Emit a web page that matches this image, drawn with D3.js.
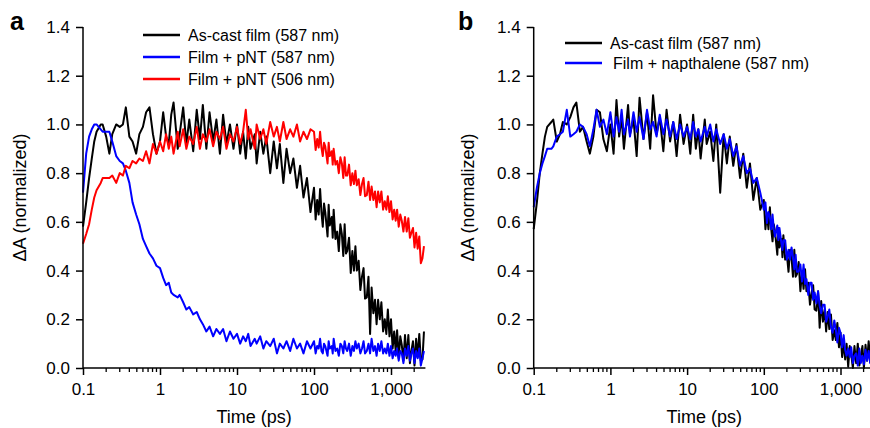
<!DOCTYPE html>
<html>
<head>
<meta charset="utf-8">
<script src="https://cdn.jsdelivr.net/npm/d3@7"></script>
<style>
    body { margin: 0; background: #fff; }
    svg { display: block; font-family: "Liberation Sans", Arial, sans-serif; }
</style>
</head>
<body>
<svg id="chart" width="870" height="428"></svg>
<script>
// delay times (ps), shared by every trace
const times = [
    0.1, 0.11, 0.12, 0.13, 0.14, 0.15, 0.17, 0.18, 0.2, 0.22, 0.24, 0.27,
    0.3, 0.33, 0.36, 0.4, 0.44, 0.49, 0.54, 0.6, 0.66, 0.73, 0.81, 0.9,
    1, 1.1, 1.2, 1.3, 1.4, 1.5, 1.7, 1.8, 2, 2.2, 2.4, 2.7,
    3, 3.3, 3.6, 4, 4.4, 4.9, 5.4, 6, 6.6, 7.3, 8.1, 9,
    10, 11, 12, 13, 14, 15, 17, 18, 20, 22, 24, 27,
    30, 33, 36, 40, 44, 49, 54, 60, 66, 73, 81, 90,
    100, 105, 110, 115, 120, 125, 130, 135, 140, 150,
    155, 160, 170, 175, 180, 190, 200, 210, 220, 230,
    240, 250, 260, 270, 285, 300, 315, 330, 345, 360,
    380, 400, 420, 440, 460, 485, 510, 535, 560, 590,
    620, 650, 680, 715, 750, 790, 830, 870, 910, 955,
    1000, 1050, 1100, 1150, 1200, 1260, 1320, 1380, 1450, 1520,
    1600, 1680, 1760, 1840, 1930, 2020, 2120, 2220, 2330, 2440,
    2560, 2680
];

// panel a
const aCast587 = [
    0.58, 0.68, 0.78, 0.86, 0.93, 0.97, 1.0, 1.0, 0.95, 0.88, 0.96, 1.0,
    0.99, 1.0, 1.07, 0.95, 0.93, 0.88, 0.96, 0.99, 1.05, 1.07, 0.96, 0.88,
    0.93, 1.05, 0.95, 0.92, 1.04, 1.09, 0.9, 0.96, 1.07, 0.92, 1.02, 0.89,
    1.06, 0.94, 1.08, 0.9, 1.05, 0.93, 1.02, 0.88, 1.04, 0.92, 1.0, 0.9,
    1.0, 0.88, 0.97, 0.86, 0.99, 0.9, 0.96, 0.84, 0.97, 0.88, 0.95, 0.8,
    0.93, 0.82, 0.92, 0.76, 0.9, 0.8, 0.86, 0.74, 0.83, 0.7, 0.78, 0.64,
    0.74, 0.61, 0.69, 0.63, 0.735, 0.64, 0.58, 0.675, 0.64, 0.54,
    0.67, 0.585, 0.62, 0.535, 0.65, 0.53, 0.56, 0.48, 0.59, 0.55,
    0.46, 0.59, 0.47, 0.48, 0.535, 0.39, 0.48, 0.4, 0.5, 0.4,
    0.44, 0.32, 0.375, 0.41, 0.285, 0.29, 0.375, 0.14, 0.33, 0.225,
    0.28, 0.18, 0.28, 0.2, 0.27, 0.15, 0.2, 0.14, 0.24, 0.13,
    0.2, 0.08, 0.15, 0.07, 0.155, 0.04, 0.13, 0.095, 0.03, 0.135,
    0.04, 0.135, 0.02, 0.07, 0.11, 0.01, 0.12, 0.045, 0.14, 0.03,
    0.035, 0.15
];
const aPNT587 = [
    0.72, 0.88, 0.95, 0.98, 1.0, 1.0, 0.98, 0.97, 0.97, 0.97, 0.93, 0.87,
    0.85, 0.84, 0.81, 0.76, 0.68, 0.63, 0.59, 0.53, 0.5, 0.47, 0.45, 0.42,
    0.41, 0.37, 0.34, 0.35, 0.31, 0.3, 0.29, 0.3, 0.27, 0.24, 0.25, 0.22,
    0.23, 0.2, 0.18, 0.15, 0.17, 0.13, 0.16, 0.14, 0.16, 0.11, 0.15, 0.12,
    0.14, 0.1, 0.13, 0.11, 0.14, 0.09, 0.12, 0.1, 0.13, 0.08, 0.11, 0.09,
    0.12, 0.06, 0.1, 0.08, 0.11, 0.07, 0.12, 0.08, 0.1, 0.06, 0.11, 0.08,
    0.11, 0.06, 0.09, 0.08, 0.12, 0.07, 0.06, 0.1, 0.09, 0.05,
    0.11, 0.08, 0.09, 0.06, 0.12, 0.07, 0.08, 0.05, 0.1, 0.09,
    0.06, 0.11, 0.08, 0.07, 0.1, 0.05, 0.09, 0.07, 0.11, 0.08,
    0.1, 0.06, 0.08, 0.11, 0.06, 0.07, 0.1, 0.06, 0.12, 0.07,
    0.09, 0.05, 0.1, 0.07, 0.11, 0.06, 0.08, 0.06, 0.1, 0.05,
    0.09, 0.04, 0.07, 0.05, 0.08, 0.03, 0.07, 0.06, 0.02, 0.08,
    0.05, 0.09, 0.03, 0.06, 0.08, 0.02, 0.07, 0.04, 0.08, 0.01,
    0.04, 0.07
];
const aPNT506 = [
    0.51, 0.55, 0.59, 0.65, 0.7, 0.73, 0.76, 0.78, 0.78, 0.78, 0.79, 0.76,
    0.8, 0.79, 0.83, 0.82, 0.85, 0.84, 0.86, 0.85, 0.89, 0.84, 0.92, 0.88,
    0.93, 0.89, 0.96, 0.9, 0.95, 0.88, 0.97, 0.91, 0.98, 0.9, 0.95, 0.92,
    0.99, 0.9, 0.96, 0.93, 0.98, 0.91, 0.97, 0.94, 0.99, 0.9, 0.96, 0.93,
    0.99, 0.92, 0.97, 1.06, 0.94, 0.98, 0.9, 1.0, 0.94, 0.98, 0.92, 1.01,
    0.95, 0.99, 0.93, 1.01, 0.94, 0.98, 0.95, 1.0, 0.93, 0.97, 0.94, 0.98,
    0.97, 0.895, 0.94, 0.905, 0.97, 0.905, 0.87, 0.925, 0.91, 0.84,
    0.925, 0.87, 0.89, 0.835, 0.9, 0.835, 0.85, 0.8, 0.865, 0.84,
    0.78, 0.865, 0.79, 0.79, 0.835, 0.75, 0.8, 0.755, 0.81, 0.75,
    0.775, 0.71, 0.755, 0.78, 0.705, 0.71, 0.765, 0.69, 0.745, 0.69,
    0.725, 0.66, 0.725, 0.68, 0.725, 0.65, 0.685, 0.65, 0.705, 0.64,
    0.685, 0.61, 0.65, 0.605, 0.65, 0.58, 0.63, 0.605, 0.56, 0.62,
    0.56, 0.615, 0.535, 0.555, 0.575, 0.495, 0.555, 0.49, 0.54, 0.43,
    0.45, 0.5
];

// panel b
const bCast587 = [
    0.57, 0.68, 0.8, 0.88, 0.95, 0.99, 1.01, 1.02, 0.93, 0.96, 1.01, 1.0,
    1.03, 1.07, 1.09, 0.97, 0.99, 0.93, 0.88, 0.95, 1.06, 1.05, 0.94, 0.89,
    1.0, 0.88, 1.1, 0.95, 1.03, 0.9, 1.08, 0.96, 1.02, 0.87, 1.11, 0.94,
    1.05, 0.9, 1.12, 0.96, 1.03, 0.89, 1.06, 0.93, 1.01, 0.87, 1.04, 0.92,
    1.0, 0.88, 1.04, 0.9, 0.98, 0.86, 1.02, 0.92, 0.97, 0.85, 1.0, 0.72,
    0.96, 0.84, 0.95, 0.83, 0.92, 0.78, 0.88, 0.74, 0.84, 0.69, 0.78, 0.65,
    0.69, 0.57, 0.635, 0.57, 0.66, 0.57, 0.52, 0.59, 0.56, 0.465,
    0.575, 0.495, 0.53, 0.455, 0.545, 0.445, 0.465, 0.395, 0.485, 0.455,
    0.375, 0.485, 0.375, 0.385, 0.435, 0.315, 0.395, 0.325, 0.405, 0.315,
    0.35, 0.26, 0.31, 0.34, 0.24, 0.235, 0.315, 0.165, 0.275, 0.19,
    0.24, 0.15, 0.23, 0.16, 0.22, 0.115, 0.155, 0.115, 0.185, 0.085,
    0.145, 0.045, 0.105, 0.035, 0.1, 0.005, 0.09, 0.055, 0.0, 0.09,
    0.02, 0.1, 0.01, 0.05, 0.09, 0.0, 0.095, 0.03, 0.11, 0.025,
    0.03, 0.12
];
const bNapth587 = [
    0.66, 0.74, 0.8, 0.84, 0.87, 0.9, 0.9, 0.91, 0.95, 0.96, 0.97, 1.06,
    0.95, 0.96, 0.97, 1.0, 0.99, 0.96, 0.91, 0.98, 1.06, 0.99, 1.02, 0.96,
    1.05, 0.95, 1.03, 0.97, 1.06, 0.96, 1.02, 0.95, 1.05, 0.97, 1.03, 0.94,
    1.06, 0.98, 1.01, 0.95, 1.04, 0.96, 1.02, 0.95, 1.01, 0.94, 1.0, 0.95,
    0.99, 0.94, 1.01, 0.95, 0.98, 0.93, 0.99, 0.95, 1.0, 0.93, 0.98, 0.92,
    0.96, 0.9, 0.94, 0.87, 0.91, 0.83, 0.87, 0.8, 0.82, 0.76, 0.78, 0.72,
    0.65, 0.68, 0.595, 0.64, 0.62, 0.57, 0.63, 0.57, 0.54, 0.585,
    0.525, 0.575, 0.51, 0.485, 0.525, 0.525, 0.445, 0.485, 0.445, 0.495,
    0.455, 0.405, 0.465, 0.395, 0.395, 0.425, 0.355, 0.425, 0.345, 0.365,
    0.3, 0.35, 0.35, 0.28, 0.31, 0.265, 0.315, 0.255, 0.225, 0.26,
    0.26, 0.19, 0.21, 0.24, 0.17, 0.145, 0.195, 0.155, 0.105, 0.165,
    0.145, 0.085, 0.135, 0.075, 0.05, 0.08, 0.045, 0.085, 0.02, 0.05,
    0.06, 0.01, 0.08, 0.02, 0.05, 0.015, 0.075, 0.03, 0.07, 0.02,
    0.07, 0.03
];

const majorTicks = [0.1, 1, 10, 100, 1000];
const majorLabels = ['0.1', '1', '10', '100', '1,000'];
const yTicks = [0, 0.2, 0.4, 0.6, 0.8, 1.0, 1.2, 1.4];

const panels = [
    {
        letter: 'a', letterX: 10, axisX: 83, decade: 77, titleX: 20,
        legendX: 143, legendY: [35, 57, 79],
        series: [
            { name: 'As-cast film (587 nm)', values: aCast587, color: '#000000' },
            { name: 'Film + pNT (587 nm)', values: aPNT587, color: '#0000ff' },
            { name: 'Film + pNT (506 nm)', values: aPNT506, color: '#ff0000' }
        ]
    },
    {
        letter: 'b', letterX: 458, axisX: 533.7, decade: 76.7, titleX: 468,
        legendX: 565, legendY: [43, 63], textShift: [0, 3],
        series: [
            { name: 'As-cast film (587 nm)', values: bCast587, color: '#000000' },
            { name: 'Film + napthalene (587 nm)', values: bNapth587, color: '#0000ff' }
        ]
    }
];

const svg = d3.select('#chart');
const plotTop = 27, plotBottom = 368;
const y = d3.scaleLinear().domain([0, 1.4]).range([plotBottom, plotTop]);

panels.forEach(p => {
    const xMax = 2800;
    const x = d3.scaleLog()
        .domain([0.1, xMax])
        .range([p.axisX, p.axisX + p.decade * Math.log10(xMax / 0.1)]);
    const g = svg.append('g');

    // traces
    const line = d3.line()
        .x((d, i) => x(times[i]))
        .y(d => y(d));
    p.series.forEach(s => {
        g.append('path')
            .attr('d', line(s.values))
            .attr('fill', 'none')
            .attr('stroke', s.color)
            .attr('stroke-width', 2)
            .attr('stroke-linejoin', 'round');
    });

    // y axis
    const yAxis = g.append('g')
        .attr('transform', `translate(${p.axisX},0)`)
        .call(d3.axisLeft(y).tickValues(yTicks).tickFormat(d3.format('.1f')).tickSize(7).tickPadding(6));
    yAxis.select('.domain').attr('d', `M0,${plotTop}V${plotBottom}`);

    // x axis: decades labelled, minor ticks unlabelled
    const minor = [];
    [0.1, 1, 10, 100, 1000].forEach(dec => {
        for (let m = 2; m <= 9; m++) {
            if (dec * m <= xMax) minor.push(dec * m);
        }
    });
    const xAxis = g.append('g')
        .attr('transform', `translate(0,${plotBottom})`)
        .call(d3.axisBottom(x).tickValues(majorTicks)
            .tickFormat((d, i) => majorLabels[i]).tickSize(7).tickPadding(8));
    xAxis.select('.domain').attr('d', `M${x(0.1)},0H${x(xMax)}`);
    g.append('g')
        .selectAll('line')
        .data(minor)
        .join('line')
        .attr('x1', d => x(d)).attr('x2', d => x(d))
        .attr('y1', plotBottom).attr('y2', plotBottom + 4)
        .attr('stroke', '#000').attr('stroke-width', 1.3);

    [xAxis, yAxis].forEach(ax => {
        ax.select('.domain').attr('stroke-width', 1.5);
        ax.selectAll('.tick line').attr('stroke-width', 1.5);
        ax.selectAll('.tick text').attr('font-size', 17).attr('fill', '#000')
            .attr('font-family', '"Liberation Sans", Arial, sans-serif');
    });

    // titles
    g.append('text')
        .attr('x', (x(0.1) + x(xMax)) / 2)
        .attr('y', 423)
        .attr('text-anchor', 'middle')
        .attr('font-size', 18)
        .text('Time (ps)');
    g.append('text')
        .attr('transform', `translate(${p.titleX + 6},${(plotTop + plotBottom) / 2}) rotate(-90)`)
        .attr('text-anchor', 'middle')
        .attr('font-size', 18)
        .text('ΔA (normalized)');
    g.append('text')
        .attr('x', p.letterX)
        .attr('y', 30)
        .attr('font-size', 25)
        .attr('font-weight', 'bold')
        .text(p.letter);

    // legend
    p.series.forEach((s, i) => {
        const ly = p.legendY[i];
        g.append('line')
            .attr('x1', p.legendX).attr('x2', p.legendX + 37)
            .attr('y1', ly).attr('y2', ly)
            .attr('stroke', s.color).attr('stroke-width', 2.5);
        g.append('text')
            .attr('x', p.legendX + 45 + (p.textShift ? p.textShift[i] : 0))
            .attr('y', ly + 5.5)
            .attr('font-size', 16)
            .text(s.name);
    });
});
</script>
</body>
</html>
